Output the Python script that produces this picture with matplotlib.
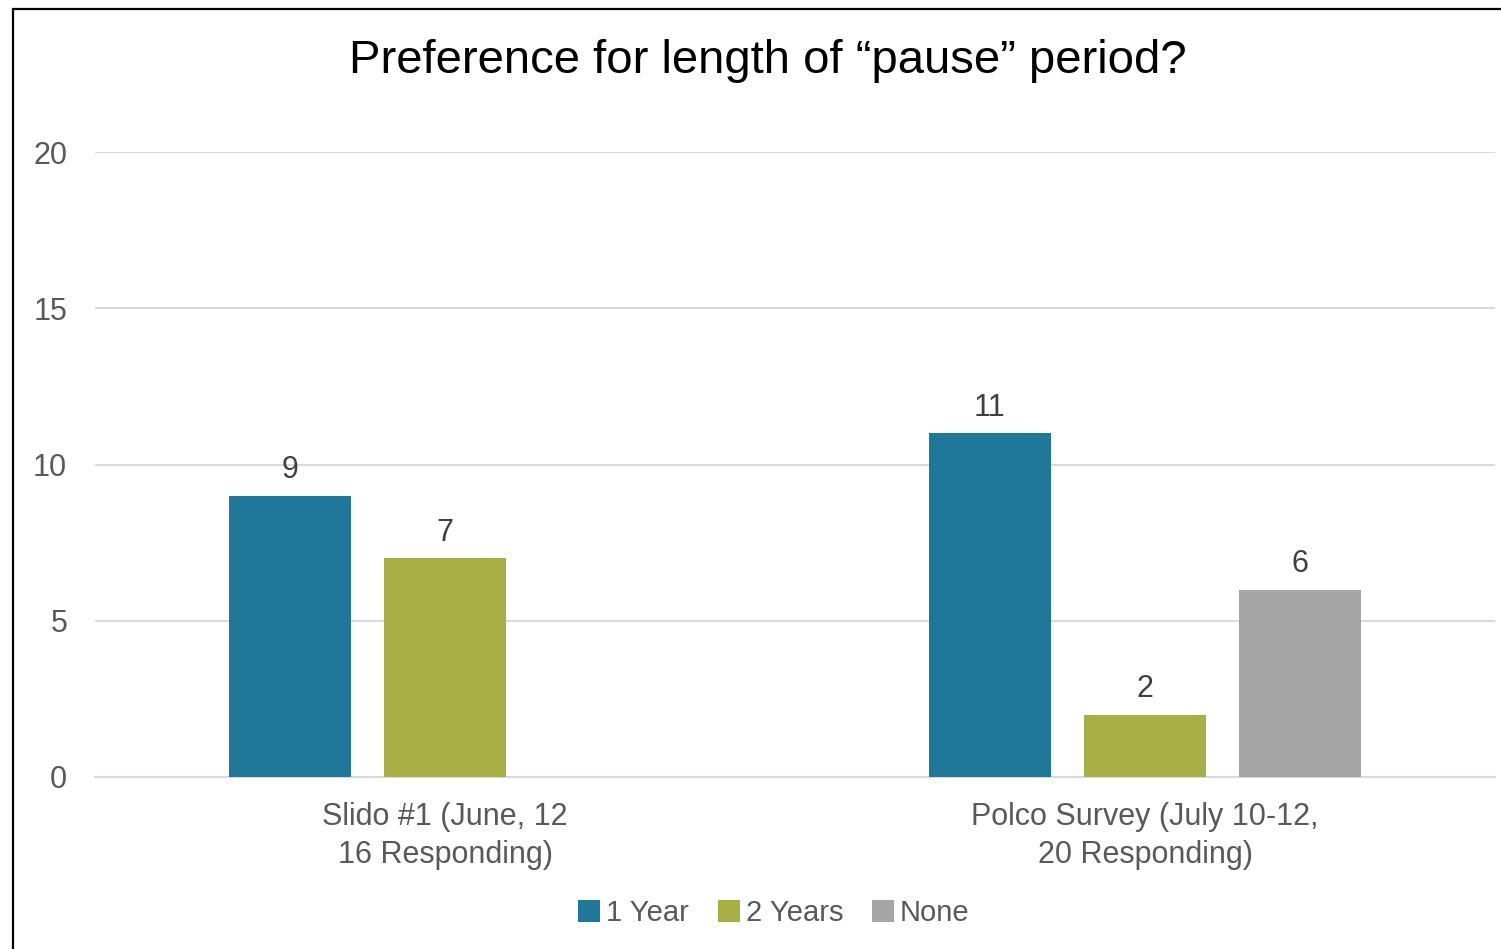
import matplotlib
matplotlib.use("Agg")
import matplotlib.pyplot as plt
import numpy as np
from matplotlib.patches import Rectangle, Patch

categories = ["Slido #1 (June, 12\n16 Responding)", "Polco Survey (July 10-12,\n20 Responding)"]
series_names = ["1 Year", "2 Years", "None"]
one_year = [9, 11]
two_years = [7, 2]
none_vals = [0, 6]
colors = ["#1F7898", "#A8B045", "#A5A5A5"]
title = "Preference for length of \u201cpause\u201d period?"

W, H = 1501, 949
fig = plt.figure(figsize=(W / 100, H / 100), dpi=100)
ax = fig.add_axes([95 / W, 1 - 777 / H, 1400 / W, (777 - 152) / H])

txt = "#595959"
font = "Liberation Sans"
x = np.arange(len(categories))
width = 122 / 700
step = 155 / 700
series = [one_year, two_years, none_vals]
for i, (vals, c, name) in enumerate(zip(series, colors, series_names)):
    pos = x + (i - 1) * step
    ax.bar(pos, vals, width=width, color=c, label=name, zorder=3)
    for p, v in zip(pos, vals):
        if v > 0:
            ax.text(p, v + 0.33, str(v), ha="center", va="bottom", fontsize=22,
                    color="#404040", family=font)

ax.set_xlim(-0.5, 1.5)
ax.set_ylim(0, 20)
ax.set_yticks([0, 5, 10, 15, 20])
ax.yaxis.grid(True, color="#D9D9D9", linewidth=1.5, zorder=0)
for s in ["top", "right", "left"]:
    ax.spines[s].set_visible(False)
ax.spines["bottom"].set_color("#D9D9D9")
ax.spines["bottom"].set_linewidth(1.5)
ax.tick_params(axis="y", length=0, labelsize=22, colors=txt, pad=20)
ax.tick_params(axis="x", length=0, labelsize=22, colors=txt, pad=18)
ax.set_xticks(x)
ax.set_xticklabels(categories, family=font, linespacing=1.35)
for lab in ax.get_yticklabels():
    lab.set_family(font)

fig.text(768 / W, 1 - 61 / H, title, ha="center", va="center", fontsize=34,
         color="black", family=font)

handles = [Patch(facecolor=c, edgecolor="none") for c in colors]
leg = fig.legend(handles, series_names, loc="center", bbox_to_anchor=(774 / W, 1 - 913 / H),
                 ncol=3, frameon=False, handlelength=0.75, handleheight=0.75,
                 handletextpad=0.2, columnspacing=1.0, prop={"family": font, "size": 21})
for t in leg.get_texts():
    t.set_color(txt)

fig.patches.append(Rectangle((12.5 / W, -0.1), 1.2, 1 - 8.5 / H + 0.1, transform=fig.transFigure,
                             fill=False, edgecolor="black", linewidth=1.6))

fig.savefig("out.png", dpi=100)
